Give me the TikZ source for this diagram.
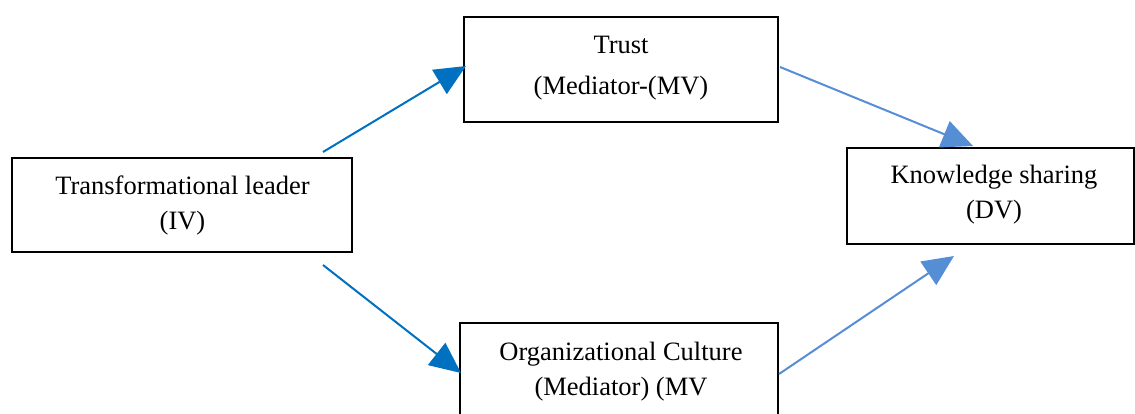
\documentclass[tikz,border=0pt]{standalone}
\usepackage{fontspec}
\setmainfont{Liberation Serif}
\usetikzlibrary{arrows.meta}
\definecolor{darkarrow}{RGB}{0,112,192}
\definecolor{lightarrow}{RGB}{85,142,213}
\tikzset{
  box/.style={draw=black, line width=1.8pt, fill=white, inner sep=0pt},
  lbl/.style={align=center, font=\fontsize{26.5}{35}\selectfont, inner sep=0pt},
  conn/.style={line width=2pt, -{Triangle[length=31pt,width=28pt]}},
}
\begin{document}
\begin{tikzpicture}[x=1pt,y=-1pt]
\useasboundingbox (0,0) rectangle (1135,414);
\clip (0,0) rectangle (1135,414);
% boxes
\node[box, minimum width=314pt, minimum height=105pt] (trust) at (621,69.5) {};
\node[box, minimum width=340pt, minimum height=94pt] (lead) at (182,205) {};
\node[box, minimum width=287pt, minimum height=96pt] (know) at (990.5,196) {};
\node[box, minimum width=318pt, minimum height=110pt] (org) at (619,378) {};
% labels
\node[lbl] (trustlbl) at (621,68.5) {Trust\\[6pt](Mediator-(MV)};
\node[lbl] (leadlbl) at (182.5,205) {Transformational leader\\(IV)};
\node[lbl] (knowlbl) at (994,194.5) {Knowledge sharing\\(DV)};
\node[lbl] (orglbl) at (621,371.5) {Organizational Culture\\(Mediator) (MV};
% connector end points
\coordinate (a1s) at (323,152);
\coordinate (a1e) at (466,66);
\coordinate (a2s) at (780,67);
\coordinate (a2e) at (973,146);
\coordinate (a3s) at (323,265);
\coordinate (a3e) at (461,373);
\coordinate (a4s) at (779,374);
\coordinate (a4e) at (954,256);
% connectors
\draw[conn, darkarrow] (a1s) -- (a1e);
\draw[conn, lightarrow] (a2s) -- (a2e);
\draw[conn, darkarrow] (a3s) -- (a3e);
\draw[conn, lightarrow] (a4s) -- (a4e);
\end{tikzpicture}
\end{document}
